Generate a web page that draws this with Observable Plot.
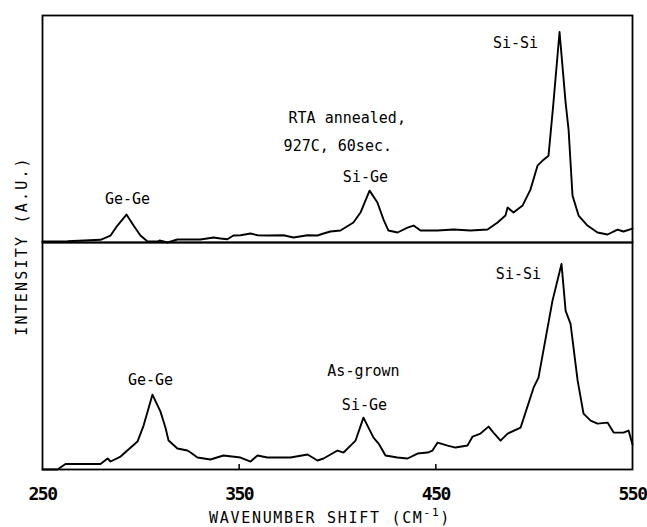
<!DOCTYPE html>
<html>
<head>
<meta charset="utf-8">
<script src="https://cdn.jsdelivr.net/npm/d3@7"></script>
<script src="https://cdn.jsdelivr.net/npm/@observablehq/plot@0.6"></script>
<style>
  html, body { margin: 0; padding: 0; background: #fff; }
  .chart text { font-family: "DejaVu Sans Mono", monospace; }
  .chart [aria-label="x-axis tick label"] {
    font-family: "DejaVu Sans", sans-serif;
    font-stretch: condensed;
    font-size: 18px; font-weight: bold; letter-spacing: -1.5px;
  }
</style>
</head>
<body>
<div id="chart"></div>
<script>
// Panels (top to bottom)
const panels = ["RTA annealed", "As-grown"];

// Upper spectrum: RTA annealed, 927C, 60 sec
const wnUpper = [250, 262.7, 279.5, 284.6, 288.1, 292.7, 296.3, 299.8, 303.4, 308.5, 309.5, 313.6, 318.6, 330.3, 337, 340.5, 344, 347.1, 350.7, 355.8, 359.3, 364.4, 372.5, 377.6, 384.8, 389.8, 392.9, 396.4, 401.5, 408.1, 411.7, 416.3, 420.3, 423.4, 425.9, 430.5, 435.6, 438.7, 442.2, 450.9, 459, 467.6, 476.3, 481.4, 485.4, 486.5, 489.5, 494.1, 498.1, 501.7, 504.8, 507.3, 509.8, 512.9, 516, 517.5, 519.5, 522.6, 527.1, 532.2, 537.3, 542.4, 545.4, 550];
const intUpper = [1, 1.3, 2.7, 7, 17, 28, 17, 7, 1, 1, 2, 0, 3, 3, 5, 4, 3.3, 7, 7.3, 9, 7.3, 7, 7.3, 5, 7.3, 7, 9, 11, 12, 20, 30, 52, 40, 23, 12, 10, 15, 17, 12, 12, 13, 12, 13, 20, 27, 35, 30, 37, 53, 77, 83, 87, 140, 211, 140, 113, 47, 27, 17, 10, 8, 13, 11, 14];

// Lower spectrum: As-grown
const wnLower = [250, 257.6, 261.7, 279.5, 283.1, 284.6, 289.7, 298.3, 301.4, 305.9, 310, 312.5, 314.1, 318.6, 323.7, 325.3, 328.8, 335.4, 342, 350.7, 355.8, 359.3, 364.4, 376.1, 384.8, 389.8, 392.9, 400, 403.1, 406.6, 409.2, 413.2, 418.3, 420.9, 424.4, 430.5, 435.6, 440.7, 445.8, 448.3, 450.9, 456, 460, 466.1, 468.7, 472.7, 476.8, 479.3, 482.9, 486.5, 493.1, 499.7, 502.2, 509.3, 513.9, 516, 518.5, 522.1, 525.1, 528.7, 532.2, 537.3, 540.4, 545.4, 548, 550];
const intLower = [0, 0, 5.5, 5.5, 11, 8, 13, 28, 44, 75, 58, 42, 29, 21, 19, 17, 12, 10, 14, 12, 8, 14, 12, 12, 15, 9, 11, 19, 17, 24, 29, 52, 32, 26, 14, 12, 11, 16, 17, 19, 27, 24, 22, 24, 33, 36, 43, 37, 29, 36, 42, 82, 92, 169, 206, 159, 146, 89, 56, 49, 46, 47, 37, 37, 39, 25];

// Axis ticks
const xTicks = [250, 350, 450, 550];
const innerTicks = [350, 450];

// Peak labels (centered) and note lines (left aligned)
const peakText  = ["Ge-Ge", "Si-Ge", "Si-Si", "Ge-Ge", "As-grown", "Si-Ge", "Si-Si"];
const peakWn    = [293.2, 414.2, 490.5, 304.9, 413.2, 413.7, 492];
const peakInt   = [43, 65, 200, 90, 99, 64, 196];
const peakPanel = [0, 0, 0, 1, 1, 1, 1];
const noteText  = ["RTA annealed,", "927C, 60sec."];
const noteWn    = [375.1, 372.6];
const noteInt   = [125, 97];

const spectra = [
  ...wnUpper.map((w, i) => ({wn: w, v: intUpper[i], panel: panels[0]})),
  ...wnLower.map((w, i) => ({wn: w, v: intLower[i], panel: panels[1]}))
];
const peaks = peakText.map((t, i) => ({text: t, wn: peakWn[i], v: peakInt[i], panel: panels[peakPanel[i]]}));
const notes = noteText.map((t, i) => ({text: t, wn: noteWn[i], v: noteInt[i], panel: panels[0]}));

const svg = Plot.plot({
  className: "chart",
  width: 647,
  height: 527,
  marginTop: 14,
  marginLeft: 42,
  marginRight: 15,
  marginBottom: 58,
  style: {background: "white", color: "black"},
  x: {domain: [250, 550], ticks: xTicks, tickSize: 0, tickPadding: 18, tickFormat: d => String(d), label: null},
  y: {domain: [0, 227.5], axis: null},
  fy: {domain: panels, axis: null, padding: 0},
  marks: [
    Plot.line(spectra, {x: "wn", y: "v", fy: "panel", stroke: "black", strokeWidth: 1.9, strokeLinejoin: "round"}),
    Plot.frame({stroke: "black", strokeWidth: 1.8}),
    Plot.ruleX(innerTicks, {x: d => d, fy: () => panels[1], y1: 0, y2: 5, stroke: "black", strokeWidth: 1.5}),
    Plot.text(peaks, {x: "wn", y: "v", fy: "panel", text: "text", fontSize: 15, textAnchor: "middle", fill: "black", style: "letter-spacing:2.3px"}),
    Plot.text(notes, {x: "wn", y: "v", fy: "panel", text: "text", fontSize: 15, textAnchor: "start", fill: "black", style: "letter-spacing:2.3px"})
  ]
});

const s = d3.select(svg);
// Y axis title
s.append("text")
  .attr("transform", "translate(22,246) rotate(-90)")
  .attr("text-anchor", "middle")
  .attr("dominant-baseline", "central")
  .attr("font-size", 15)
  .attr("letter-spacing", "2.2px")
  .attr("fill", "black")
  .text("INTENSITY (A.U.)");
// X axis title
const xt = s.append("text")
  .attr("x", 330).attr("y", 523)
  .attr("text-anchor", "middle")
  .attr("font-size", 15)
  .attr("letter-spacing", "1.7px")
  .attr("fill", "black");
xt.append("tspan").text("WAVENUMBER SHIFT (CM");
xt.append("tspan").attr("dy", -7).attr("font-size", 11).text("-1");
xt.append("tspan").attr("dy", 7).text(")");

document.getElementById("chart").appendChild(svg);
</script>
</body>
</html>
